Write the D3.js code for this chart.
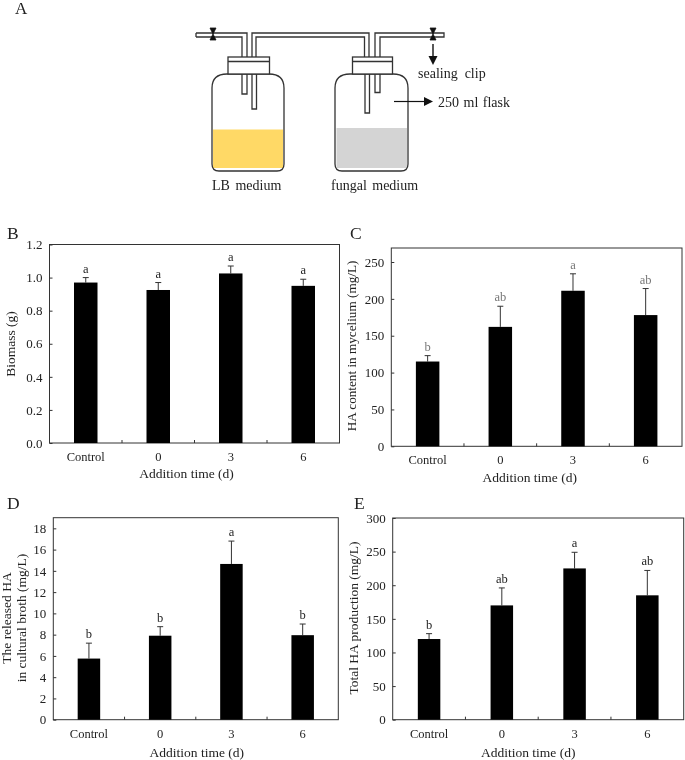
<!DOCTYPE html>
<html><head><meta charset="utf-8">
<script src="https://cdn.jsdelivr.net/npm/d3@7"></script>
<style>
html,body{margin:0;padding:0;background:#fff}
svg{display:block;filter:blur(0.3px)}
text{font-family:"Liberation Serif","Times New Roman",serif;fill:#222}
</style></head><body>
<svg id="c" width="685" height="760"></svg>
<script>
const categories = ["Control","0","3","6"];
const biomass = [0.97,0.925,1.025,0.95];
const biomassErr = [0.03,0.045,0.045,0.04];
const biomassSig = ["a","a","a","a"];
const mycelium = [115,162,211,178];
const myceliumErr = [8,28,23,36];
const myceliumSig = ["b","ab","a","ab"];
const released = [5.75,7.9,14.65,7.95];
const releasedErr = [1.45,0.85,2.15,1.05];
const releasedSig = ["b","b","a","b"];
const total = [120,170,225,185];
const totalErr = [8,26,24,37];
const totalSig = ["b","ab","a","ab"];
const ticksB = [0,0.2,0.4,0.6,0.8,1.0,1.2];
const ticksC = [0,50,100,150,200,250];
const ticksD = [0,2,4,6,8,10,12,14,16,18];
const ticksE = [0,50,100,150,200,250,300];

const svg = d3.select("#c");
const INK = "#333";

function panel(o){
  const g = svg.append("g");
  const x = d3.scaleBand().domain(categories).range([o.l,o.r]);
  const y = d3.scaleLinear().domain([0,o.ymax]).range([o.b,o.t]);
  g.append("rect").attr("x",o.l).attr("y",o.t).attr("width",o.r-o.l).attr("height",o.b-o.t)
    .attr("fill","none").attr("stroke",INK).attr("stroke-width",1);
  const ya = d3.axisLeft(y).tickValues(o.ticks).tickSize(-3).tickPadding(7)
    .tickFormat(o.fmt);
  const yg = g.append("g").attr("transform",`translate(${o.l},0)`).call(ya);
  yg.select(".domain").remove();
  yg.selectAll("line").attr("stroke",INK);
  yg.selectAll("text").attr("font-size",13).style("fill","#222");
  const xEdges = d3.scaleLinear().domain([0,4]).range([o.l,o.r]);
  g.selectAll(".xt").data([1,2,3]).join("line").attr("class","xt")
    .attr("x1",xEdges).attr("x2",xEdges).attr("y1",o.b).attr("y2",o.b-3).attr("stroke",INK);
  g.selectAll(".xl").data(categories).join("text").attr("class","xl")
    .attr("x",d=>x(d)+x.bandwidth()/2).attr("y",o.b+18).attr("text-anchor","middle")
    .attr("font-size",12.5).text(d=>d);
  const bw = o.bw;
  const cx = d=>x(d)+x.bandwidth()/2;
  const vals = categories.map((c,i)=>({c,v:o.values[i],e:o.errs[i],s:o.sig[i]}));
  g.selectAll(".err").data(vals).join("line").attr("class","err")
    .attr("x1",d=>cx(d.c)).attr("x2",d=>cx(d.c)).attr("y1",d=>y(d.v)).attr("y2",d=>y(d.v+d.e))
    .attr("stroke",INK).attr("stroke-width",1);
  g.selectAll(".cap").data(vals).join("line").attr("class","cap")
    .attr("x1",d=>cx(d.c)-3).attr("x2",d=>cx(d.c)+3).attr("y1",d=>y(d.v+d.e)).attr("y2",d=>y(d.v+d.e))
    .attr("stroke",INK).attr("stroke-width",1);
  g.selectAll(".bar").data(vals).join("rect").attr("class","bar")
    .attr("x",d=>cx(d.c)-bw/2).attr("width",bw).attr("y",d=>y(d.v)).attr("height",d=>o.b-y(d.v))
    .attr("fill","#000");
  g.selectAll(".sig").data(vals).join("text").attr("class","sig")
    .attr("x",d=>cx(d.c)).attr("y",d=>y(d.v+d.e)-5).attr("text-anchor","middle")
    .attr("font-size",12.5).style("fill",o.sigColor||"#222").text(d=>d.s);
  g.append("text").attr("x",(o.l+o.r)/2+o.xtDx).attr("y",o.b+o.xtDy).attr("text-anchor","middle")
    .attr("font-size",13.5).text("Addition time (d)");
  o.ytitle.forEach((t,i)=>{
    g.append("text").attr("transform",`translate(${o.ytx[i]},${o.yty}) rotate(-90)`)
      .attr("text-anchor","middle").attr("font-size",o.ysize||13.5).text(t);
  });
  svg.append("text").attr("x",o.lx).attr("y",o.ly).attr("font-size",17.5).text(o.letter);
}

panel({letter:"B",lx:7,ly:239,l:49.5,r:339.5,t:244.5,b:443,ymax:1.2,ticks:ticksB,fmt:d3.format(".1f"),
  values:biomass,errs:biomassErr,sig:biomassSig,bw:23.5,xtDx:-8,xtDy:35,ytitle:["Biomass (g)"],ytx:[15],yty:344});
panel({letter:"C",lx:350,ly:239,l:391.3,r:682,t:248,b:446.3,ymax:269,ticks:ticksC,fmt:d3.format("d"),
  values:mycelium,errs:myceliumErr,sig:myceliumSig,sigColor:"#777",bw:23.5,xtDx:-7,xtDy:36,ytitle:["HA content in mycelium (mg/L)"],ytx:[356],yty:346,ysize:13.2});
panel({letter:"D",lx:7,ly:509,l:53.3,r:338.3,t:517.7,b:719.7,ymax:19,ticks:ticksD,fmt:d3.format("d"),
  values:released,errs:releasedErr,sig:releasedSig,bw:22.5,xtDx:1,xtDy:37,ytitle:["The released HA","in cultural broth (mg/L)"],ytx:[11,26],yty:618});
panel({letter:"E",lx:354,ly:509,l:392.7,r:683.7,t:518,b:719.7,ymax:300,ticks:ticksE,fmt:d3.format("d"),
  values:total,errs:totalErr,sig:totalSig,bw:22.5,xtDx:-10,xtDy:37,ytitle:["Total HA production (mg/L)"],ytx:[358],yty:618});

// Panel A schematic
const a = svg.append("g");
svg.append("text").attr("x",15).attr("y",14).attr("font-size",17).text("A");
const wall = {fill:"none",stroke:"#333","stroke-width":1.3};
function P(d,attrs){const p=a.append("path").attr("d",d);Object.entries(attrs).forEach(([k,v])=>p.attr(k,v));return p;}
a.append("rect").attr("x",213).attr("y",129.5).attr("width",70).attr("height",38.5).attr("fill","#FFD966");
a.append("rect").attr("x",336.5).attr("y",128).attr("width",70.5).attr("height",40).attr("fill","#D4D4D4");
const body=(l,r)=>`M${l},88 Q${l},74 ${l+15},74 L${r-15},74 Q${r},74 ${r},88 L${r},164 Q${r},171 ${r-7},171 L${l+7},171 Q${l},171 ${l},164 Z`;
P(body(212,284),wall);
P(body(335,408),wall);
[[228,269.5],[352.5,392.5]].forEach(([l,r])=>{
  a.append("rect").attr("x",l).attr("y",57).attr("width",r-l).attr("height",17).attr("fill","#fff").attr("stroke","#333").attr("stroke-width",1.3);
  a.append("line").attr("x1",l).attr("x2",r).attr("y1",61.5).attr("y2",61.5).attr("stroke","#333").attr("stroke-width",1.3);
});
P("M196,33 L247,33 L247,57 M196,37 L242,37 L242,57 M196,33 L196,37",wall);
P("M252,57 L252,33 L369,33 L369,57 M256,57 L256,37 L364.5,37 L364.5,57",wall);
P("M375,57 L375,33 L444,33 L444,37 L380,37 L380,57",wall);
P("M242,74 L242,94 L247,94 L247,74",wall);
P("M252,74 L252,109 L256.5,109 L256.5,74",wall);
P("M365,74 L365,113 L369.5,113 L369.5,74",wall);
P("M375,74 L375,92.5 L380,92.5 L380,74",wall);
[213,433].forEach(cx=>{
  P(`M${cx-3},28 L${cx+3},28 L${cx-3},40 L${cx+3},40 Z`,{fill:"#111",stroke:"#111","stroke-width":0.8});
});
P("M433,44 L433,58",{fill:"none",stroke:"#111","stroke-width":1.4});
P("M428.5,56 L437.5,56 L433,65 Z",{fill:"#111"});
P("M394,101.5 L425,101.5",{fill:"none",stroke:"#111","stroke-width":1.2});
P("M424,97 L433,101.5 L424,106 Z",{fill:"#111"});
[["LB medium",212,190,2],["fungal medium",331,190,2],["sealing  clip",418,78,0],["250 ml flask",438,107,1]].forEach(([t,x,y,ws])=>{
  a.append("text").attr("x",x).attr("y",y).attr("font-size",14).style("word-spacing",ws+"px").style("white-space","pre").text(t);
});
</script>
</body></html>
